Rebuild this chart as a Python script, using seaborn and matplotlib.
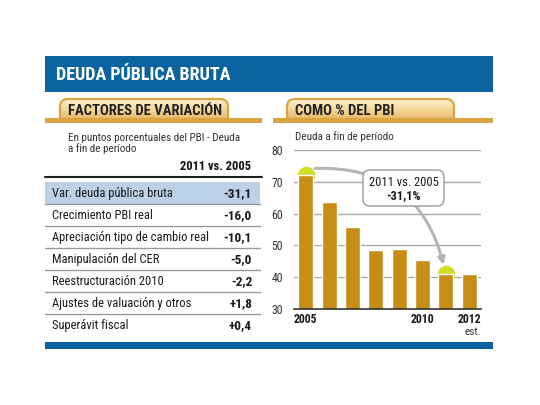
import matplotlib
matplotlib.use("Agg")
import matplotlib.pyplot as plt
import seaborn as sns
import numpy as np
from matplotlib.patches import Rectangle, FancyBboxPatch
from matplotlib.colors import LinearSegmentedColormap

# data
years = ["2005", "2006", "2007", "2008", "2009", "2010", "2011", "2012"]
debt = [72.0, 63.7, 55.9, 48.4, 48.9, 45.4, 40.9, 41.1]
year_labels = ["2005", "", "", "", "", "2010", "", "2012"]
y_ticks = [30, 40, 50, 60, 70, 80]

factors = ["Var. deuda pública bruta", "Crecimiento PBI real",
           "Apreciación tipo de cambio real", "Manipulación del CER",
           "Reestructuración 2010", "Ajustes de valuación y otros",
           "Superávit fiscal"]
changes = [-31.1, -16.0, -10.1, -5.0, -2.2, 1.8, 0.4]

BLUE = "#0b64a0"
GOLD = "#c68e17"
TAB_EDGE = "#d9a441"
LIME = "#d4dc2a"
HILITE = "#bcd1e8"
tab_cmap = LinearSegmentedColormap.from_list("tab", ["#fcf1d4", "#f3d594", "#e2ae55"])

sns.set_style("white")
plt.rcParams["font.family"] = ["Roboto Condensed", "DejaVu Sans"]

fig = plt.figure(figsize=(5.4, 4.05), dpi=100)

# overlay in pixel coords for the frame / table
bg = fig.add_axes([0, 0, 1, 1])
bg.axis("off")

# blue bars
bg.add_patch(Rectangle((45, 56), 448, 36, color=BLUE, lw=0))
bg.add_patch(Rectangle((45, 342), 448, 7, color=BLUE, lw=0))
bg.text(56, 75, "DEUDA PÚBLICA BRUTA", color="white", fontsize=13,
        fontweight="bold", va="center", ha="left")

# section tabs
grad = np.linspace(0, 1, 64).reshape(-1, 1)

def tab(x0, x1, line0, line1, label):
    p = FancyBboxPatch((x0, 99), x1 - x0, 30,
                       boxstyle="round,pad=0,rounding_size=8",
                       fc="none", ec=TAB_EDGE, lw=1.6, zorder=2.5)
    bg.add_patch(p)
    im = bg.imshow(grad, cmap=tab_cmap, extent=(x0, x1, 122, 99),
                   origin="upper", aspect="auto", zorder=2)
    im.set_clip_path(p)
    bg.add_patch(Rectangle((line0, 118), line1 - line0, 4.5, color=TAB_EDGE,
                           lw=0, zorder=3))
    bg.add_patch(Rectangle((line0 - 2, 122.5), line1 - line0 + 4, 9,
                           color="white", lw=0, zorder=3))
    bg.text(x0 + 8, 111, label, fontsize=10.5, fontweight="bold",
            color="#222222", va="center", ha="left", zorder=4)

tab(60, 228, 45, 262, "FACTORES DE VARIACIÓN")
tab(287, 454, 273, 493, "COMO % DEL PBI")

# left table
bg.text(68, 138, "En puntos porcentuales del PBI - Deuda", fontsize=8,
        color="#333333", va="center")
bg.text(68, 149, "a fin de período", fontsize=8, color="#333333",
        va="center")
bg.text(251, 167, "2011 vs. 2005", fontsize=9, fontweight="bold",
        ha="right", va="center", color="#111111")
bg.plot([45, 262], [176.5, 176.5], color="#222222", lw=1.5)

row_h = 22
top = 182
bg.add_patch(Rectangle((45, top), 215, row_h, color=HILITE, lw=0))
for i, (name, val) in enumerate(zip(factors, changes)):
    yc = top + row_h * i + row_h / 2 + 0.5
    txt = ("+" if val > 0 else "-") + f"{abs(val):.1f}".replace(".", ",")
    bg.text(52, yc, name, fontsize=9, color="#1a1a1a", va="center")
    bg.text(252, yc, txt, fontsize=9.5, fontweight="bold", color="#1a1a1a",
            ha="right", va="center")
    if i < len(factors) - 1:
        yl = top + row_h * (i + 1)
        bg.plot([45, 260], [yl, yl], color="#999999", lw=1)

bg.text(295, 137, "Deuda a fin de período", fontsize=8, color="#333333",
        va="center")
bg.set_xlim(0, 540)
bg.set_ylim(405, 0)

# bar chart
ax = fig.add_axes([294 / 540, 1 - 309 / 405, 187 / 540, 159 / 405])
ax.set_facecolor("none")
sns.barplot(x=years, y=debt, color=GOLD, saturation=1, width=0.64, ax=ax,
            zorder=2)
ax.scatter([0, 6], [debt[0], debt[6]], s=160, color=LIME, zorder=1.5,
           linewidths=0)
ax.set_ylim(30, 80)
ax.set_xlim(-0.5, 7.5)
ax.set_yticks(y_ticks)
ax.set_yticklabels([str(t) for t in y_ticks], fontsize=8.5, color="#333333")
ax.set_xticks(range(len(years)))
ax.set_xticklabels(year_labels, fontsize=8.5, fontweight="bold",
                   color="#1a1a1a")
ax.tick_params(length=0, axis="y", pad=8)
ax.tick_params(length=0, axis="x", pad=3)
ax.set_xlabel("")
ax.set_ylabel("")
for t in y_ticks[1:]:
    ax.axhline(t, color="#aaaaaa", lw=1, zorder=0.5)
for s in ["top", "right", "left"]:
    ax.spines[s].set_visible(False)
ax.spines["bottom"].set_color("#333333")
ax.spines["bottom"].set_linewidth(1.2)
ax.text(7.5, -0.145, "est.", transform=ax.get_xaxis_transform(),
        ha="right", va="center", fontsize=8, color="#333333")

# annotation: curved arrow from 2005 to 2011, box on top
ax.annotate("", xy=(5.9, 43.9), xytext=(0.4, 74.2),
            arrowprops=dict(arrowstyle="-|>", color="#b5b5b5", lw=2.2,
                            mutation_scale=10, shrinkA=0, shrinkB=0,
                            connectionstyle="arc3,rad=-0.4"), zorder=3)
ax.add_patch(FancyBboxPatch((363, 170), 81, 36,
                            boxstyle="round,pad=0,rounding_size=7",
                            fc="white", ec="#999999", lw=1,
                            transform=bg.transData, zorder=5, clip_on=False))
ax.text(403.5, 182, "2011 vs. 2005", transform=bg.transData, ha="center",
        va="center", fontsize=9, color="#1a1a1a", zorder=6)
ax.text(403.5, 195.5, "-31,1%", transform=bg.transData, ha="center",
        va="center", fontsize=9, fontweight="bold", color="#1a1a1a",
        zorder=6)

fig.savefig("out.png", dpi=100, facecolor="white")
